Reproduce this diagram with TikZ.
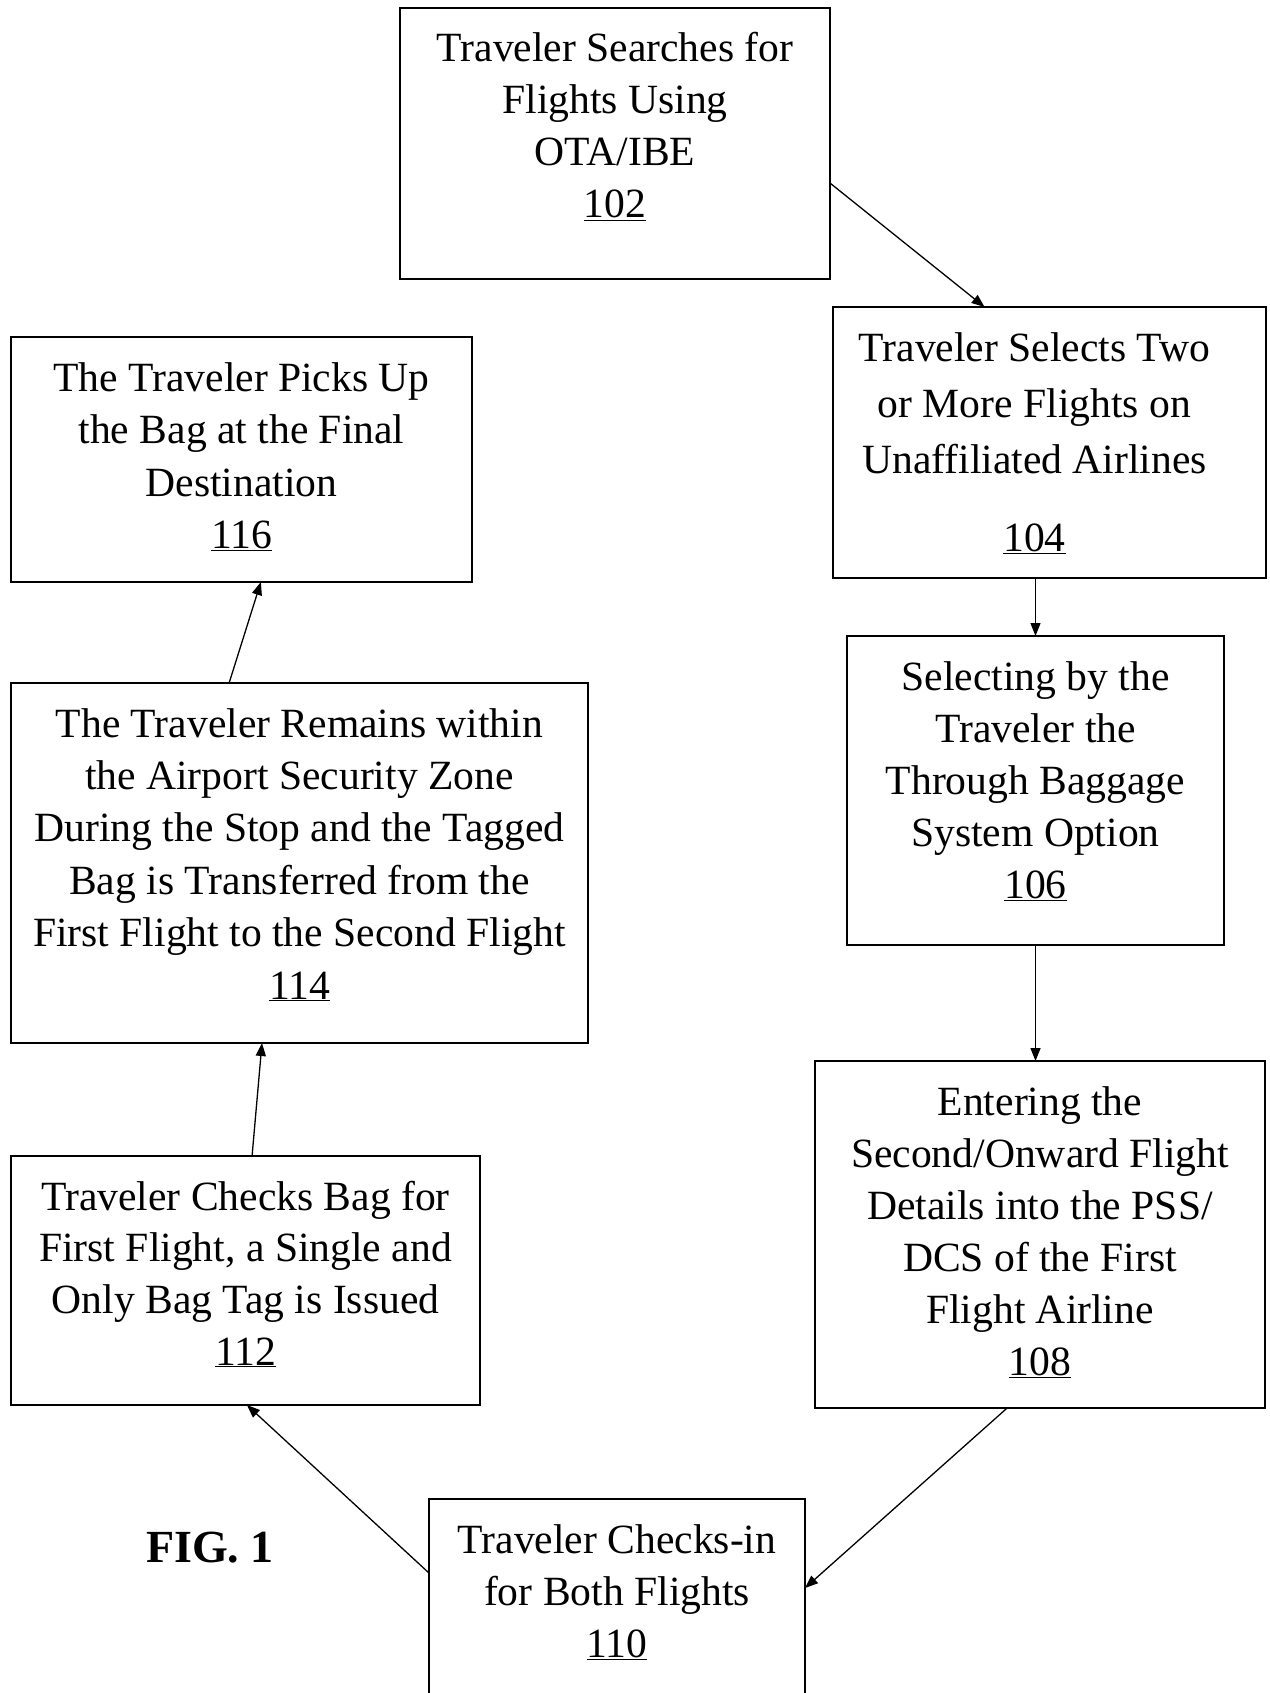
\documentclass[tikz,border=0pt]{standalone}
\usepackage{fontspec}
\setmainfont{Liberation Serif}
\usetikzlibrary{arrows.meta,calc}
\begin{document}
\begin{tikzpicture}[x=1pt,y=-1pt,
  box/.style={draw=black,line width=1.2pt,inner sep=0pt,outer sep=0pt,anchor=north west},
  conn/.style={line width=1.3pt,-{Triangle[length=13pt,width=10pt]}},
  fig/.style={inner sep=0pt,anchor=base,font=\fontsize{46}{50}\selectfont\bfseries}]
\useasboundingbox (0,0) rectangle (1269,1693);
\newcommand{\boxtext}[4]{\parbox[c][#2pt][t]{#1pt}{\centering\fontsize{41.6}{#3}\selectfont\rule{0pt}{54pt}#4}}
\node[box] (b102) at (400,8) {\boxtext{430}{271}{52}{Traveler Searches for\\Flights Using\\OTA/IBE\\\underline{102}}};
\node[box] (b104) at (833,307) {\hbox to 433pt{\boxtext{403}{271}{56}{Traveler Selects Two\\or More Flights on\\Unaffiliated Airlines\\[22pt]\underline{104}}\hfil}};
\node[box] (b116) at (11,337) {\boxtext{461}{245}{52.5}{The Traveler Picks Up\\the Bag at the Final\\Destination\\\underline{116}}};
\node[box] (b106) at (847,636) {\boxtext{377}{309}{52}{Selecting by the\\Traveler the\\Through Baggage\\System Option\\\underline{106}}};
\node[box] (b114) at (11,683) {\boxtext{577}{360}{52.4}{The Traveler Remains within\\the Airport Security Zone\\During the Stop and the Tagged\\Bag is Transferred from the\\First Flight to the Second Flight\\\underline{114}}};
\node[box] (b108) at (815,1061) {\boxtext{450}{347}{52}{Entering the\\Second/Onward Flight\\Details into the PSS/\\DCS of the First\\Flight Airline\\\underline{108}}};
\node[box] (b112) at (11,1156) {\boxtext{469}{249}{51.7}{Traveler Checks Bag for\\First Flight, a Single and\\Only Bag Tag is Issued\\\underline{112}}};
\node[box] (b110) at (429,1499) {\boxtext{376}{230}{52}{Traveler Checks-in\\for Both Flights\\\underline{110}}};
\node[fig] (fig1) at (210,1562) {FIG. 1};
\draw[conn] ($(b102.north east)!0.646!(b102.south east)$) -- ($(b104.north west)!0.35!(b104.north east)$);
\draw[conn] (b104.south -| b106.north) -- (b106.north);
\draw[conn] (b106.south) -- (b108.north -| b106.south);
\draw[conn] ($(b108.south west)!0.427!(b108.south east)$) -- ($(b110.north east)+(0,89)$);
\draw[conn] ($(b110.north west)+(0,74)$) -- ($(b112.south west)!0.503!(b112.south east)$);
\draw[conn] ($(b112.north west)!0.514!(b112.north east)$) -- ($(b114.south west)!0.435!(b114.south east)$);
\draw[conn] ($(b114.north west)!0.378!(b114.north east)$) -- ($(b116.south west)!0.542!(b116.south east)$);
\end{tikzpicture}
\end{document}
